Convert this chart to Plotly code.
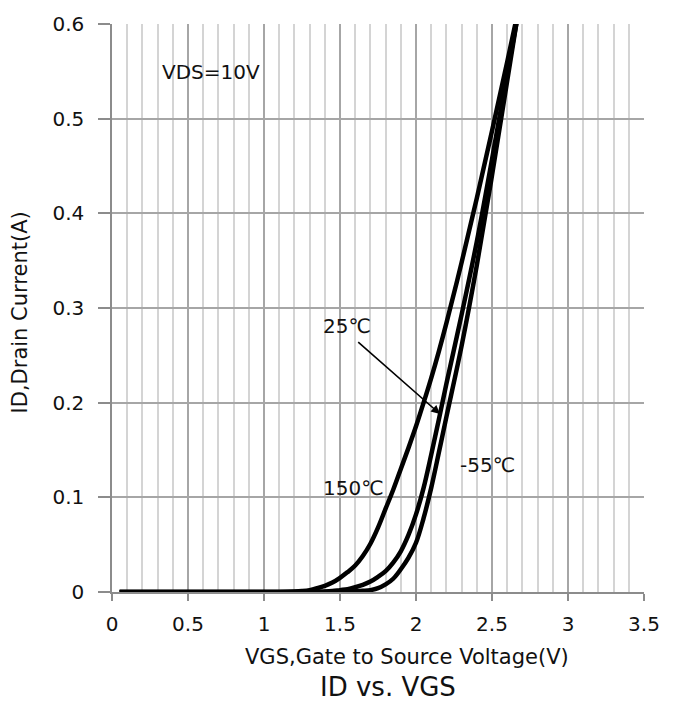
import plotly.graph_objects as go

# Transfer characteristics, VDS = 10 V
vgs = [0.05, 0.5, 1.0, 1.1, 1.2, 1.25, 1.3, 1.35, 1.4, 1.45, 1.5, 1.55, 1.6, 1.65, 1.7,
       1.75, 1.8, 1.85, 1.9, 1.95, 2.0, 2.05, 2.1, 2.15, 2.2, 2.3, 2.4, 2.5, 2.6, 2.7]
id_150c = [0, 0, 0, 0.0001, 0.0005, 0.001, 0.002, 0.004, 0.0065, 0.010,
           0.015, 0.021, 0.028, 0.038, 0.051, 0.068, 0.088, 0.108, 0.13, 0.152,
           0.175, 0.2, 0.226, 0.254, 0.284, 0.348, 0.416, 0.487, 0.56, 0.635]
id_25c = [0, 0, 0, 0, 0, 0, 0.0002, 0.0003, 0.0005, 0.001,
          0.002, 0.003, 0.005, 0.0075, 0.011, 0.016, 0.022, 0.031, 0.043, 0.06,
          0.082, 0.11, 0.145, 0.182, 0.22, 0.293, 0.37, 0.457, 0.548, 0.635]
id_m55c = [0, 0, 0, 0, 0, 0, 0, 0, 0.0001, 0.0002,
           0.0003, 0.0005, 0.0008, 0.0013, 0.002, 0.004, 0.008, 0.014, 0.024, 0.036,
           0.052, 0.078, 0.11, 0.147, 0.185, 0.26, 0.345, 0.44, 0.54, 0.64]

x_ticks = [0, 0.5, 1, 1.5, 2, 2.5, 3, 3.5]
y_ticks = [0, 0.1, 0.2, 0.3, 0.4, 0.5, 0.6]

FONT = "DejaVu Sans, sans-serif"
INK = "#111111"

fig = go.Figure()
for name, ys in [("150℃", id_150c), ("25℃", id_25c), ("-55℃", id_m55c)]:
    fig.add_trace(go.Scatter(
        x=vgs, y=ys, mode="lines", name=name,
        line=dict(color="black", width=4.5, shape="spline", smoothing=1.0),
        showlegend=False,
    ))

label_font = dict(family=FONT, size=20, color=INK)
fig.add_annotation(x=0.65, y=0.549, text="VDS=10V", showarrow=False, font=label_font)
fig.add_annotation(x=1.546, y=0.281, text="25℃", showarrow=False, font=label_font)
fig.add_annotation(x=1.59, y=0.110, text="150℃", showarrow=False, font=label_font)
fig.add_annotation(x=2.47, y=0.134, text="-55℃", showarrow=False, font=label_font)
# pointer from the 25℃ label to its curve
fig.add_annotation(
    x=2.158, y=0.188, ax=1.61, ay=0.2654, axref="x", ayref="y",
    xref="x", yref="y", text="", showarrow=True,
    arrowhead=2, arrowsize=1.1, arrowwidth=1.6, arrowcolor="black",
)

# axis titles and chart caption
fig.add_annotation(xref="paper", yref="paper", x=(407 - 112) / 532, y=-(658 - 592) / 575,
                   text="VGS,Gate to Source Voltage(V)", showarrow=False,
                   xanchor="center", yanchor="middle", font=dict(family=FONT, size=21, color=INK))
fig.add_annotation(xref="paper", yref="paper", x=(388 - 112) / 532, y=-(688 - 592) / 575,
                   text="ID vs. VGS", showarrow=False,
                   xanchor="center", yanchor="middle", font=dict(family=FONT, size=26, color=INK))
fig.add_annotation(xref="paper", yref="paper", x=-(112 - 20) / 532, y=(592 - 309) / 575,
                   text="ID,Drain Current(A)", showarrow=False, textangle=-90,
                   xanchor="center", yanchor="middle", font=dict(family=FONT, size=21, color=INK))

fig.update_layout(
    width=680, height=704,
    margin=dict(l=112, r=36, t=17, b=112),
    paper_bgcolor="white", plot_bgcolor="white",
    font=dict(family=FONT, size=20, color=INK),
)

fig.update_xaxes(
    range=[0, 3.5], tickvals=x_ticks,
    showgrid=True, gridcolor="#a6a6a6", gridwidth=1.5,
    minor=dict(dtick=0.1, showgrid=True, gridcolor="#d4d4d4", gridwidth=1.5,
               ticks=""),
    showline=True, linecolor="#8c8c8c", linewidth=1.5,
    ticks="outside", ticklen=7, tickcolor="#8c8c8c", tickwidth=1.5,
    ticklabelstandoff=6,
    zeroline=False,
    tickfont=dict(family=FONT, size=20, color=INK),
)
fig.update_yaxes(
    range=[0, 0.6], tickvals=y_ticks,
    showgrid=True, gridcolor="#a6a6a6", gridwidth=1.5,
    showline=True, linecolor="#8c8c8c", linewidth=1.5,
    ticks="outside", ticklen=12, tickcolor="#8c8c8c", tickwidth=1.5,
    ticklabelstandoff=10,
    zeroline=False,
    tickfont=dict(family=FONT, size=20, color=INK),
)

fig.write_html("out.html")
